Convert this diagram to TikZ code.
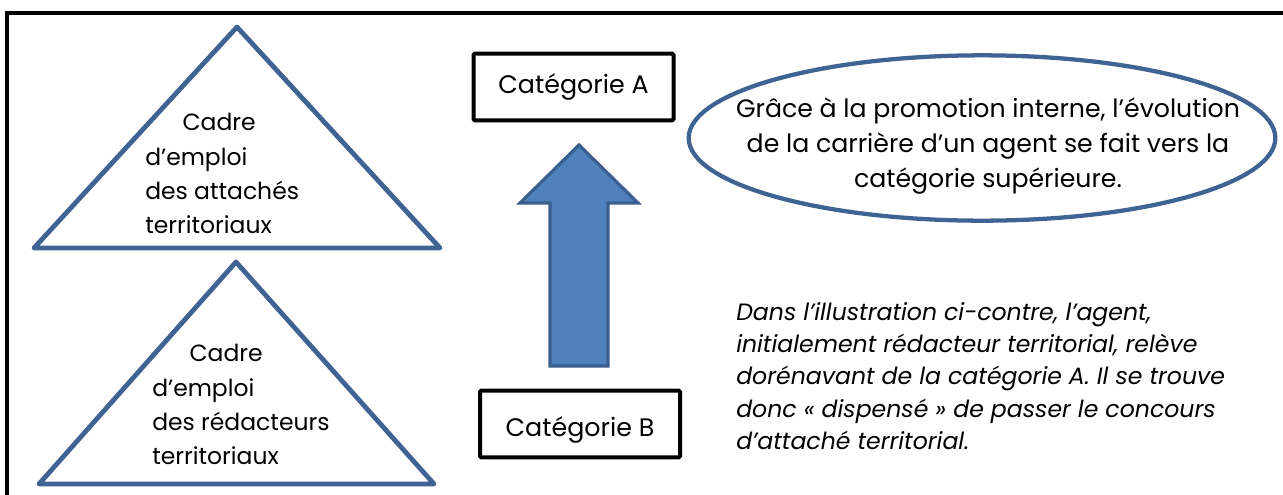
\documentclass[tikz,border=0pt]{standalone}
\usepackage{fontspec}
\setmainfont{Poppins}
\usetikzlibrary{shapes.geometric}
\definecolor{trimblue}{HTML}{3F6392}
\definecolor{arrowfill}{HTML}{4F81BD}
\definecolor{arrowedge}{HTML}{3A5F8E}
\begin{document}
\begin{tikzpicture}[x=0.75pt,y=-0.75pt,
	tri/.style={draw=trimblue,line width=3.6pt,line join=round},
	catbox/.style={draw=black,line width=3pt,rounded corners=1pt,inner sep=0pt,
		minimum width=150pt,minimum height=50pt,font=\fontsize{19}{23}\selectfont},
	trilabel/.style={anchor=north west,align=left,inner sep=0pt,
		font=\fontsize{17.6}{25.8}\selectfont}]
	\useasboundingbox (0,0) rectangle (1283,494);
	\clip (0,0) rectangle (1283,494);
	\draw [black,line width=3.4pt] (7,520) -- (7,13) -- (1300,13);
	\draw [tri] (237,27) -- (440,248) -- (34,248) -- cycle;
	\node [trilabel] (attaches) at (145,113) {\hspace*{28pt}Cadre\\d’emploi\\des attachés\\territoriaux};
	\draw [tri] (236,262) -- (434,484) -- (39,484) -- cycle;
	\node [trilabel] (redacteurs) at (152,344) {\hspace*{28pt}Cadre\\d’emploi\\des rédacteurs\\territoriaux};
	\node [catbox] (catA) at (573.5,87) {Catégorie A};
	\node [catbox,text height=21pt,text depth=2pt] (catB) at (580,424) {Catégorie B};
	\draw [fill=arrowfill,draw=arrowedge,line width=2.4pt,line join=miter]
		(550,366) -- (550,203) -- (520,203) -- (579,145) -- (638,203) -- (608,203) -- (608,366) -- cycle;
	\node [ellipse,draw=trimblue,line width=3.2pt,inner sep=0pt,minimum width=440pt,minimum height=124pt] (bulle) at (982,138) {};
	\node [align=center,inner sep=0pt,font=\fontsize{18.9}{26.3}\selectfont] (bulletext) at (988,146)
		{Grâce à la promotion interne, l’évolution\\de la carrière d’un agent se fait vers la\\catégorie supérieure.};
	\node [anchor=north west,align=left,inner sep=0pt,font=\fontsize{17.7}{24.2}\selectfont\itshape] (note) at (736,302)
		{Dans l’illustration ci-contre, l’agent,\\initialement rédacteur territorial, relève\\dorénavant de la catégorie A. Il se trouve\\donc «~dispensé~» de passer le concours\\d’attaché territorial.};
\end{tikzpicture}
\end{document}
